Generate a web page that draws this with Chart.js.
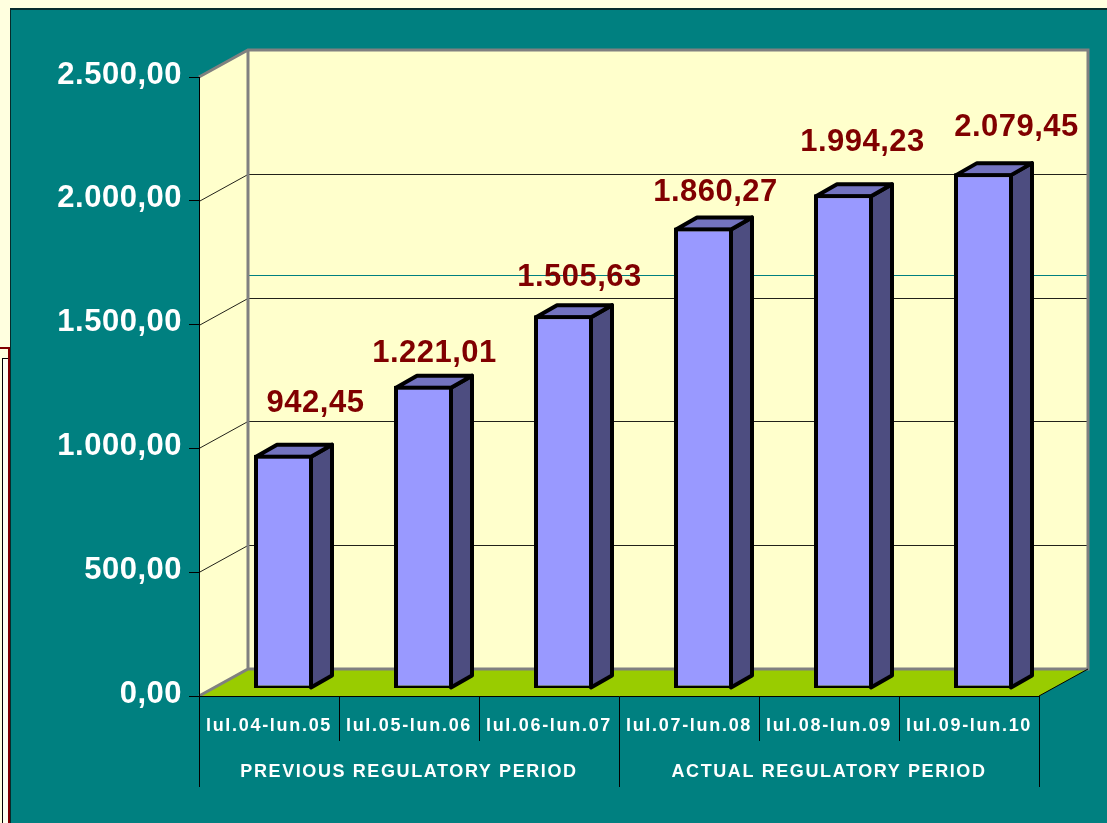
<!DOCTYPE html>
<html>
<head>
<meta charset="utf-8">
<script src="https://cdn.jsdelivr.net/npm/chart.js@4"></script>
<style>
  html, body { margin: 0; padding: 0; width: 1107px; height: 823px; overflow: hidden; background: #FFFFDF; }
  #panel { position: absolute; left: 10px; top: 8px; right: 0; bottom: 0; background: #008080; border-top: 2px solid #062B2B; border-left: 1px solid #062B2B; }
  #sidebox { position: absolute; left: 0; top: 347px; width: 8px; bottom: 0; border-top: 2px solid #800000; border-right: 2px solid #800000; }
  #sideline { position: absolute; left: 2px; top: 9px; right: 0; bottom: 0; border-left: 1px solid #000; border-top: 1px solid #000; background: #FFFFEF; }
  canvas { position: absolute; left: 0; top: 0; }
</style>
</head>
<body>
<div id="sidebox"><div id="sideline"></div></div>
<div id="panel"></div>
<canvas id="barChart" width="1107" height="823"></canvas>
<script>
const categories = ['lul.04-lun.05', 'lul.05-lun.06', 'lul.06-lun.07', 'lul.07-lun.08', 'lul.08-lun.09', 'lul.09-lun.10'];
const periods = ['PREVIOUS REGULATORY PERIOD', 'ACTUAL REGULATORY PERIOD'];
const values = [942.45, 1221.01, 1505.63, 1860.27, 1994.23, 2079.45];
const valueLabels = ['942,45', '1.221,01', '1.505,63', '1.860,27', '1.994,23', '2.079,45'];
const tickLabels = { 0: '0,00', 500: '500,00', 1000: '1.000,00', 1500: '1.500,00', 2000: '2.000,00', 2500: '2.500,00' };
const strayLineValue = 1592;

// depth of the fake 3d box, and where the bars sit inside it
const depthX = 49, depthY = -27;
const barShiftX = 14.5, barShiftY = -8;
const barDepthX = 21, barDepthY = -12;
// the labels were moved by hand in the original
const labelNudgeX = [32, 11, 16, 12, 19, 33];
const labelNudgeY = [-51, -32, -38, -35, -52, -46];

function poly(ctx, pts, fill, stroke, lw) {
  ctx.beginPath();
  pts.forEach((p, i) => i ? ctx.lineTo(p[0], p[1]) : ctx.moveTo(p[0], p[1]));
  ctx.closePath();
  if (fill) { ctx.fillStyle = fill; ctx.fill(); }
  if (stroke) { ctx.strokeStyle = stroke; ctx.lineWidth = lw; ctx.stroke(); }
}

const box3d = {
  id: 'box3d',
  beforeDraw(chart) {
    const ctx = chart.ctx, a = chart.chartArea, y = chart.scales.y;
    // letter spacing per axis, chart.js has no option for it
    Object.values(chart.scales).forEach(s => {
      if (s._spaced) return;
      const orig = s.drawLabels;
      s.drawLabels = function (area) {
        ctx.letterSpacing = s.options.ticks.spacing;
        orig.call(s, area);
        ctx.letterSpacing = '0px';
      };
      s._spaced = true;
    });
    const bx0 = a.left + depthX, bx1 = a.right + depthX;
    const by0 = a.top + depthY, by1 = a.bottom + depthY;
    ctx.save();
    // floor
    poly(ctx, [[a.left, a.bottom], [a.right, a.bottom], [bx1, by1], [bx0, by1]], '#99CC00');
    // walls
    poly(ctx, [[a.left, a.top], [bx0, by0], [bx0, by1], [a.left, a.bottom]], '#FFFFCC');
    poly(ctx, [[bx0, by0], [bx1, by0], [bx1, by1], [bx0, by1]], '#FFFFCC');
    // grid on the walls
    ctx.lineWidth = 1;
    ctx.strokeStyle = '#22221A';
    y.ticks.forEach(t => {
      if (t.value === 0 || t.value === y.max) return;
      const py = Math.round(y.getPixelForValue(t.value)) + 0.5;
      ctx.beginPath();
      ctx.moveTo(a.left, py);
      ctx.lineTo(bx0, py + depthY);
      ctx.lineTo(bx1, py + depthY);
      ctx.stroke();
    });
    // teal line across the back wall
    const sy = Math.round(y.getPixelForValue(strayLineValue)) + depthY + 0.5;
    ctx.strokeStyle = '#008080';
    ctx.beginPath();
    ctx.moveTo(bx0, sy);
    ctx.lineTo(bx1, sy);
    ctx.stroke();
    // grey edges
    ctx.strokeStyle = '#808080';
    ctx.lineWidth = 3;
    ctx.lineJoin = 'miter';
    ctx.beginPath();
    ctx.moveTo(a.left, a.top);
    ctx.lineTo(bx0, by0);
    ctx.lineTo(bx1, by0);
    ctx.lineTo(bx1, by1);
    ctx.lineTo(bx0, by1);
    ctx.lineTo(a.left, a.bottom);
    ctx.moveTo(bx0, by0);
    ctx.lineTo(bx0, by1);
    ctx.stroke();
    // front right edge of the floor
    ctx.strokeStyle = '#000';
    ctx.lineWidth = 1;
    ctx.beginPath();
    ctx.moveTo(a.right, a.bottom);
    ctx.lineTo(bx1, by1);
    ctx.stroke();
    ctx.restore();
  },
  beforeDatasetDraw(chart, args) {
    const ctx = chart.ctx;
    ctx.save();
    ctx.translate(barShiftX, barShiftY);
    ctx.lineJoin = 'round';
    args.meta.data.forEach(b => {
      const l = b.x - b.width / 2 + 2, r = b.x + b.width / 2 - 2;
      const t = b.y + 2, bt = b.base - 2;
      poly(ctx, [[r, t], [r + barDepthX, t + barDepthY], [r + barDepthX, bt + barDepthY], [r, bt]], '#4D4D80', '#000', 4);
      poly(ctx, [[l, t], [l + barDepthX, t + barDepthY], [r + barDepthX, t + barDepthY], [r, t]], '#7373BF', '#000', 4);
    });
  },
  afterDatasetDraw(chart) {
    chart.ctx.restore();
  },
  afterDatasetsDraw(chart) {
    const ctx = chart.ctx;
    const meta = chart.getDatasetMeta(0);
    ctx.save();
    ctx.font = 'bold 31px "Liberation Sans"';
    ctx.letterSpacing = '0.5px';
    ctx.fillStyle = '#800000';
    ctx.textAlign = 'center';
    ctx.textBaseline = 'middle';
    meta.data.forEach((b, i) => {
      ctx.fillText(valueLabels[i], b.x + barShiftX + labelNudgeX[i], b.y + barShiftY + labelNudgeY[i]);
    });
    ctx.letterSpacing = '0px';
    ctx.restore();
  }
};

new Chart(document.getElementById('barChart').getContext('2d'), {
  type: 'bar',
  data: {
    labels: categories,
    datasets: [{
      data: values,
      base: -6,
      backgroundColor: '#9999FF',
      borderColor: '#000',
      borderWidth: 4,
      borderSkipped: false,
      barPercentage: 59 / 140,
      categoryPercentage: 1
    }]
  },
  plugins: [box3d],
  options: {
    responsive: false,
    animation: false,
    layout: { padding: { top: 77, right: 68, left: 0, bottom: 0 } },
    plugins: { legend: { display: false }, tooltip: { enabled: false } },
    scales: {
      y: {
        min: 0,
        max: 2500,
        afterFit: s => { s.width = 199; },
        border: { color: '#000' },
        grid: { drawOnChartArea: false, color: '#000', tickLength: 10 },
        ticks: {
          stepSize: 500,
          padding: 7,
          labelOffset: -2,
          spacing: '0.5px',
          color: '#FFFFFF',
          font: { family: '"Liberation Sans"', size: 31, weight: 'bold' },
          callback: v => tickLabels[v]
        }
      },
      x: {
        offset: true,
        afterFit: s => { s.height = 45; },
        border: { color: '#000' },
        grid: { offset: true, drawOnChartArea: false, color: '#000', tickLength: 45 },
        ticks: {
          autoSkip: false,
          maxRotation: 0,
          padding: -26,
          spacing: '1.7px',
          color: '#FFFFFF',
          font: { family: '"Liberation Sans"', size: 18, weight: 'bold' }
        }
      },
      x2: {
        type: 'category',
        labels: periods,
        position: 'bottom',
        weight: 1,
        offset: true,
        afterFit: s => { s.height = 82; },
        border: { display: false },
        grid: { offset: true, drawOnChartArea: false, color: '#000', tickLength: 46 },
        ticks: {
          autoSkip: false,
          maxRotation: 0,
          padding: -26,
          spacing: '1.6px',
          color: '#FFFFFF',
          font: { family: '"Liberation Sans"', size: 18, weight: 'bold' }
        }
      }
    }
  }
});
</script>
</body>
</html>
